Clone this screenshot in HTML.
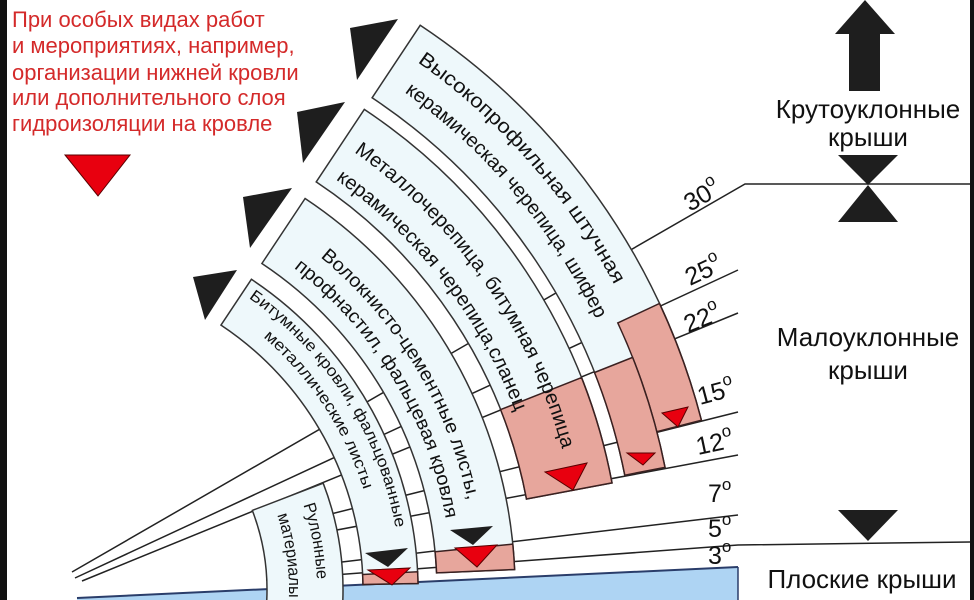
<!DOCTYPE html>
<html><head><meta charset="utf-8"><style>
html,body{margin:0;padding:0;background:#fff}
svg{display:block}
text{font-family:"Liberation Sans",sans-serif}
</style></head><body>
<svg width="974" height="600" viewBox="0 0 974 600" xmlns="http://www.w3.org/2000/svg">
<rect width="974" height="600" fill="#fff"/>
<rect x="0" y="0" width="7" height="600" fill="#111"/>
<rect x="970" y="0" width="4" height="600" fill="#111"/>

<!-- left red text -->
<g fill="#d42a2a" font-size="22">
<text x="12" y="27">При особых видах работ</text>
<text x="12" y="53">и мероприятиях, например,</text>
<text x="12" y="80">организации нижней кровли</text>
<text x="12" y="105">или дополнительного слоя</text>
<text x="12" y="131">гидроизоляции на кровле</text>
</g>
<polygon points="65,155 130,155 98,196" fill="#e8000f" stroke="#5a0000" stroke-width="1"/>

<!-- blue flat area -->
<polygon points="77,598 738,567 738,600 77,600" fill="#aed4f3"/>
<line x1="77" y1="598" x2="738" y2="567" stroke="#2a3d6a" stroke-width="2"/>
<line x1="738" y1="567" x2="738" y2="600" stroke="#2a3d6a" stroke-width="1.5"/>

<!-- slope lines -->
<g stroke="#222" stroke-width="1.5" fill="none">
<polyline points="72,572 745,184 970,184"/>
<line x1="75" y1="578" x2="738" y2="270"/>
<line x1="82" y1="581" x2="738" y2="313"/>
<line x1="259" y1="532" x2="738" y2="412"/>
<line x1="262" y1="544" x2="738" y2="455"/>
<line x1="266" y1="571" x2="738" y2="515"/>
<polyline points="266,580 738,545 970,542"/>
</g>

<!-- bands -->
<g stroke="#333" stroke-width="1.5" fill="#eef8fb">
<path d="M372.1,97.8 L420.2,25.3 A678,678 0 0 1 701.4,420.2 L656.8,431.7 A632,632 0 0 1 665,467.3 L624.8,475.2 A591,591 0 0 0 372.1,97.8 Z"/>
<path d="M316.2,181.9 L364.3,109.4 A577,577 0 0 1 612,482.9 L526.5,499 A490,490 0 0 0 316.2,181.9 Z"/>
<path d="M261.9,263.5 L305.1,198.5 A470,470 0 0 1 514.6,569.5 L436.6,572.9 A392,392 0 0 0 261.9,263.5 Z"/>
<path d="M221,325.1 L251.4,279.3 A373,373 0 0 1 418,583.5 L363,584.5 A318,318 0 0 0 221,325.1 Z"/>
<path d="M252.3,510.4 L323.2,483.2 A298,298 0 0 1 342.6,605.6 L266.7,601.6 A222,222 0 0 0 252.3,510.4 Z"/>
</g>

<!-- pink blocks -->
<g stroke="#3a2020" stroke-width="1.5" fill="#e7a69c">
<path d="M617.8,322.9 L659.5,303.5 A678,678 0 0 1 701.4,420.2 L656.8,431.7 A632,632 0 0 0 617.8,322.9 Z"/>
<path d="M594.5,372.5 L632.6,357.4 A632,632 0 0 1 665,467.3 L624.8,475.2 A591,591 0 0 0 594.5,372.5 Z"/>
<path d="M500.6,409.6 L581.5,377.6 A577,577 0 0 1 612,482.9 L526.5,499 A490,490 0 0 0 500.6,409.6 Z"/>
<path d="M435.1,551.7 L512.8,544.1 A470,470 0 0 1 514.6,569.5 L436.6,572.9 A392,392 0 0 0 435.1,551.7 Z"/>
<path d="M362.6,574.5 L417.6,571.8 A373,373 0 0 1 418,583.5 L363,584.5 A318,318 0 0 0 362.6,574.5 Z"/>
</g>

<!-- text paths -->
<defs>
<path id="t5a" d="M402.5,51.9 A646,646 0 0 1 688.5,533.7"/>
<path id="t5b" d="M384.8,78.6 A614,614 0 0 1 656.7,536.5"/>
<path id="t4a" d="M341.6,143.6 A536,536 0 0 1 579,543.3"/>
<path id="t4b" d="M323.4,171 A503,503 0 0 1 546.1,546.2"/>
<path id="t3a" d="M284.1,230.2 A432,432 0 0 1 477,590"/>
<path id="t3b" d="M270.2,251 A407,407 0 0 1 452,590"/>
<path id="t2a" d="M242,293.5 A356,356 0 0 1 401,590"/>
<path id="t2b" d="M229.8,311.8 A334,334 0 0 1 379,590"/>
<path id="t1a" d="M298.9,492.5 A272,272 0 0 1 312.9,637.2"/>
<path id="t1b" d="M272.8,502.6 A244,244 0 0 1 285.3,632.4"/>
</defs>
<g fill="#111">
<text font-size="20"><textPath href="#t5a" startOffset="18" textLength="300" lengthAdjust="spacingAndGlyphs">Высокопрофильная штучная</textPath></text>
<text font-size="20"><textPath href="#t5b" startOffset="24" textLength="300" lengthAdjust="spacingAndGlyphs">керамическая черепица, шифер</textPath></text>
<text font-size="20"><textPath href="#t4a" startOffset="15" textLength="370" lengthAdjust="spacingAndGlyphs">Металлочерепица, битумная черепица</textPath></text>
<text font-size="20"><textPath href="#t4b" startOffset="15" textLength="298" lengthAdjust="spacingAndGlyphs">керамическая черепица,сланец</textPath></text>
<text font-size="19"><textPath href="#t3a" startOffset="45" textLength="290" lengthAdjust="spacingAndGlyphs">Волокнисто-цементные листы,</textPath></text>
<text font-size="19"><textPath href="#t3b" startOffset="29" textLength="300" lengthAdjust="spacingAndGlyphs">профнастил, фальцевая кровля</textPath></text>
<text font-size="16"><textPath href="#t2a" startOffset="8" textLength="280" lengthAdjust="spacingAndGlyphs">Битумные кровли, фальцованные</textPath></text>
<text font-size="16"><textPath href="#t2b" startOffset="42" textLength="185" lengthAdjust="spacingAndGlyphs">металлические листы</textPath></text>
<text font-size="17"><textPath href="#t1a" startOffset="13" textLength="76" lengthAdjust="spacingAndGlyphs">Рулонные</textPath></text>
<text font-size="17"><textPath href="#t1b" startOffset="13" textLength="84" lengthAdjust="spacingAndGlyphs">материалы</textPath></text>
</g>

<!-- black triangles at band tops -->
<g fill="#1e1e1e">
<polygon points="350,28 398,19 357,80"/>
<polygon points="297,112 345,102 303,163"/>
<polygon points="243,197 292,188 250,248"/>
<polygon points="193,277 237,270 205,320"/>
<polygon points="450,530 493,526 473,545"/>
<polygon points="365,553 408,548 388,567"/>
</g>
<!-- red triangles -->
<g fill="#e8000f" stroke="#5a0000" stroke-width="1">
<polygon points="662,413 688,407 678,427"/>
<polygon points="627,453 655,453 643,465"/>
<polygon points="545,472 587,463 573,490"/>
<polygon points="455,548 497,545 477,567"/>
<polygon points="368,570 410,568 392,585"/>
</g>

<!-- degree labels -->
<g fill="#111" font-size="25">
<text transform="translate(690,212) rotate(-30)">30<tspan font-size="17" dy="-12">o</tspan></text>
<text transform="translate(690,286) rotate(-25)">25<tspan font-size="17" dy="-12">o</tspan></text>
<text transform="translate(688,333) rotate(-22)">22<tspan font-size="17" dy="-12">o</tspan></text>
<text transform="translate(700,405) rotate(-15)">15<tspan font-size="17" dy="-12">o</tspan></text>
<text transform="translate(698,455) rotate(-12)">12<tspan font-size="17" dy="-12">o</tspan></text>
<text x="708" y="502">7<tspan font-size="17" dy="-12">o</tspan></text>
<text x="708" y="537">5<tspan font-size="17" dy="-12">o</tspan></text>
<text x="708" y="564">3<tspan font-size="17" dy="-12">o</tspan></text>
</g>

<!-- right side -->
<g fill="#1e1e1e">
<polygon points="835,34 895,34 865,0"/>
<rect x="849" y="34" width="31" height="57"/>
<polygon points="838,155 898,155 868,185"/>
<polygon points="868,185 838,222 898,222"/>
<polygon points="838,510 898,510 868,541"/>
</g>
<g fill="#111" font-size="26" text-anchor="middle">
<text x="868" y="118">Крутоуклонные</text>
<text x="868" y="146">крыши</text>
<text x="868" y="346">Малоуклонные</text>
<text x="868" y="379">крыши</text>
<text x="862" y="588">Плоские крыши</text>
</g>
</svg>
</body></html>
